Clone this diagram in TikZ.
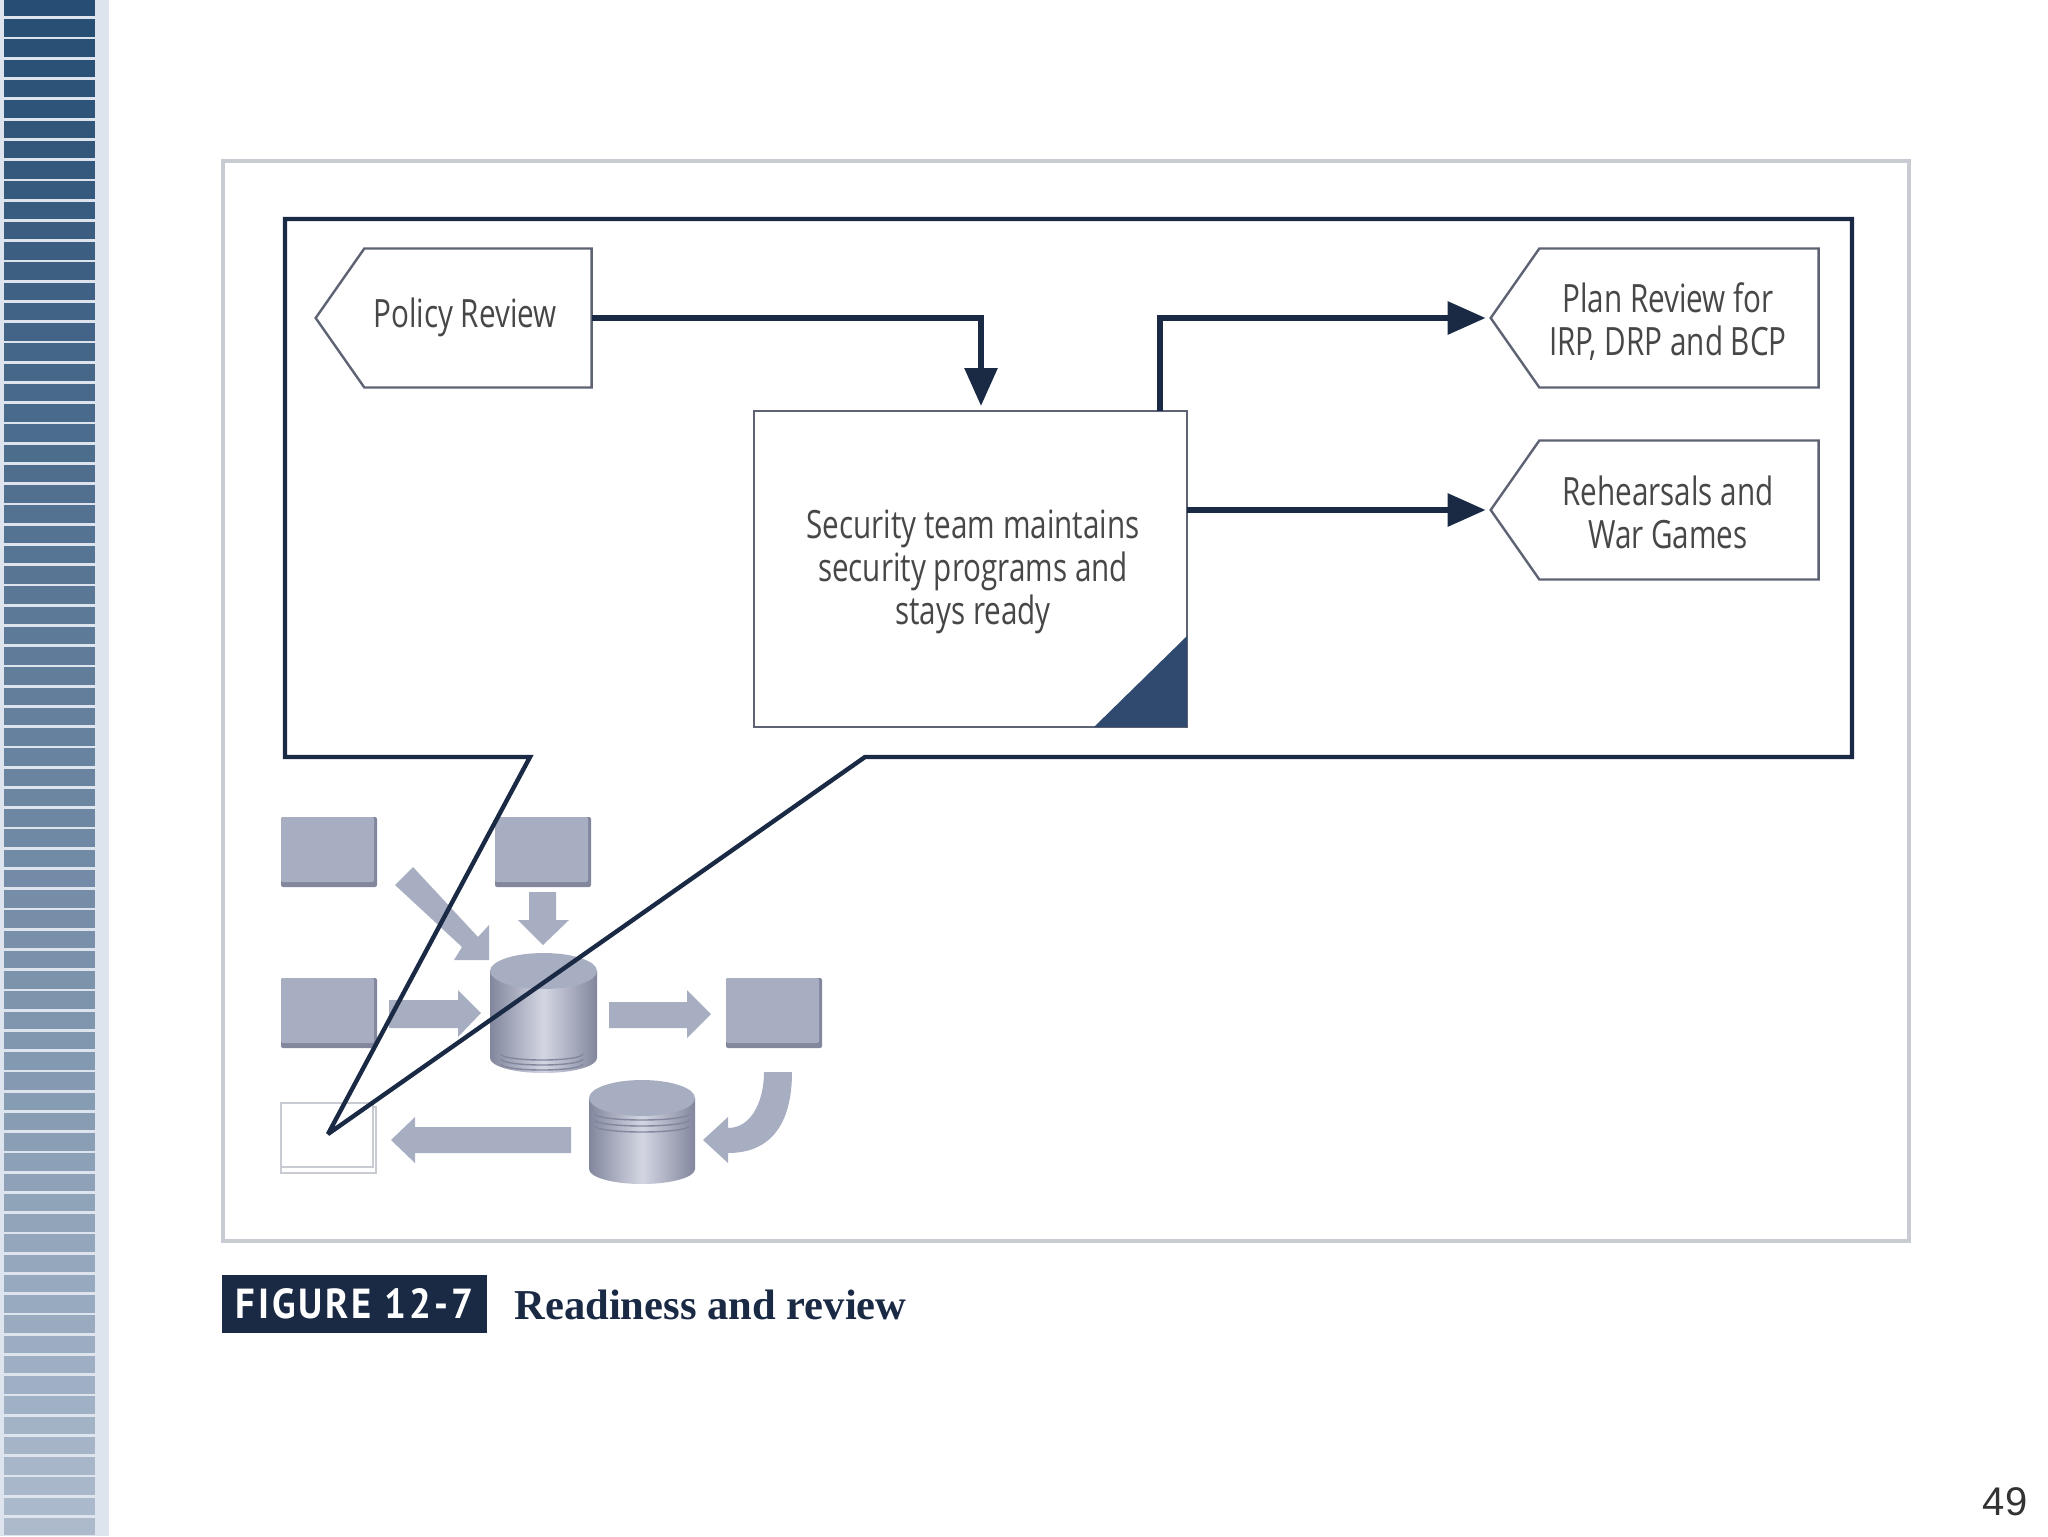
\documentclass[tikz,border=0pt]{standalone}
\usepackage{fontspec}
\usepackage{tikz}
\usetikzlibrary{shapes.symbols, arrows.meta, positioning}
\setmainfont{Liberation Serif}
\newfontfamily\labelfont[FakeStretch=0.76]{Open Sans}
\newfontfamily\badgefont[FakeStretch=0.92,LetterSpace=7]{PT Sans}
\newfontfamily\pagefont{Liberation Sans}
\definecolor{navy}{HTML}{1A2A45}
\definecolor{teamblue}{HTML}{2F4A6E}
\definecolor{framegray}{HTML}{C9CBD3}
\definecolor{boxgray}{HTML}{5E6374}
\definecolor{flowgray}{HTML}{A8AEC1}
\definecolor{flowdark}{HTML}{82879E}
\definecolor{flowlight}{HTML}{D3D6E2}
\definecolor{stripetop}{HTML}{264D73}
\definecolor{stripeend}{HTML}{ACBACC}
\definecolor{bandpale}{HTML}{DEE4EE}
\begin{document}
\begin{tikzpicture}[x=0.5pt, y=-0.5pt,
    label/.style={font=\labelfont\fontsize{19.5}{21.5}\selectfont, text=black!72, align=center},
    review/.style={signal, signal to=west, signal pointer angle=110, draw=boxgray, line width=1.2pt, fill=white, minimum height=69.5pt, inner sep=0pt, outer sep=0pt},
    wire/.style={draw=navy, line width=3pt, shorten >=2.5pt, -{Triangle[length=19pt, width=16pt]}},
    block/.style={fill=flowgray, draw=none, rounded corners=1pt},
    flow/.style={fill=flowgray, draw=none}]
    \useasboundingbox (0,0) rectangle (2048,1536);
    % Sidebar stripes
    \fill[bandpale] (0,0) rectangle (109,1536);
    \foreach \i in {0,...,75} {
        \pgfmathsetmacro{\mixval}{100-\i*100/75}
        \fill[stripetop!\mixval!stripeend] (4,{max(\i*20.25-1,0)}) rectangle (95,{min(\i*20.25+16.5,1536)});
    }
    % Outer frame
    \draw[framegray, line width=2pt] (223,161) rectangle (1909,1241);

    % Small flow chart
    \foreach \nm/\xa/\ya in {blockA/281/817, blockB/495/817, blockC/281/978, blockD/726/978} {
        \fill[flowdark, rounded corners=1pt] (\xa,\ya) rectangle ++(96,70);
        \fill[block] (\xa,\ya) rectangle ++(93,65);
    }
    \draw[framegray, line width=1pt, fill=white] (281,1107) rectangle (376,1173);
    \draw[framegray, line width=1pt, fill=white] (281,1103) rectangle (373,1167);
    \fill[flow] (413,867) -- (478,937) -- (489,925) -- (489,960) -- (454,960) -- (462,947) -- (395,885) -- cycle;
    \fill[flow] (529,892) -- (556,892) -- (556,920) -- (569,920) -- (543,945) -- (518,920) -- (529,920) -- cycle;
    \fill[flow] (389,1000) -- (458,1000) -- (458,990) -- (481,1013) -- (458,1037) -- (458,1028) -- (389,1028) -- cycle;
    \fill[flow] (609,1002) -- (687,1002) -- (687,990) -- (711,1014) -- (687,1038) -- (687,1028) -- (609,1028) -- cycle;
    \fill[flow] (391,1140) -- (415,1117) -- (415,1127) -- (571,1127) -- (571,1153) -- (415,1153) -- (415,1163) -- cycle;
    \fill[flow] (764,1072) -- (792,1072) .. controls (792,1125) and (770,1153) .. (728,1153) -- (728,1163) -- (703,1140) -- (728,1117) -- (728,1128) .. controls (752,1128) and (764,1100) .. (764,1072) -- cycle;

    % Disks
    \foreach \xa/\xb/\ya/\yb in {490/597/971/1058, 589/695/1098/1169} {
        \path[left color=flowdark, right color=flowdark, middle color=flowlight]
            (\xa,\ya) -- (\xa,\yb) arc[start angle=180, end angle=0, x radius=(\xb-\xa)/2, y radius=15] -- (\xb,\ya) -- cycle;
        \fill[flowgray] ({(\xa+\xb)/2},\ya) ellipse[x radius=(\xb-\xa)/2, y radius=18];
    }
    \foreach \ya in {1054,1059,1064} {
        \draw[flowdark, line width=0.7pt] (501,\ya) arc[start angle=180, end angle=0, x radius=41, y radius=6];
    }
    \foreach \ya in {1114,1120,1126} {
        \draw[flowdark, line width=0.7pt] (595,\ya) arc[start angle=180, end angle=0, x radius=47, y radius=6];
    }

    % Callout outline
    \draw[navy, line width=2.2pt, miter limit=2] (285,219) -- (1852,219) -- (1852,757) -- (865,757) -- (328,1134) -- (530,757) -- (285,757) -- cycle;

    % Review boxes
    \node[review, minimum width=138pt] at (478,318) (policy) {};
    \node[review, minimum width=164pt] at (1679,318) (plan) {};
    \node[review, minimum width=164pt] at (1679,510) (drill) {};
    \node[draw=boxgray, line width=1.2pt, fill=white, minimum width=216.5pt, minimum height=158pt, inner sep=0pt, outer sep=0pt] at (970.5,569) (team) {};
    \fill[teamblue] (1094,727) -- (1187,727) -- (1187,636) -- cycle;

    % Box texts
    \node[label] at (465,317) (policytext) {Policy Review};
    \node[label] at (1668,322) (plantext) {Plan Review for\\IRP, DRP and BCP};
    \node[label] at (1668,512) (drilltext) {Rehearsals and\\War Games};
    \node[label] at (973,572) (teamtext) {Security team maintains\\security programs and\\stays ready};

    % Wiring
    \coordinate (teamin) at (981,411);
    \coordinate (teamtop) at (1160,411);
    \draw[wire] (policy.east) -| (teamin);
    \draw[wire] (teamtop) |- (plan.west);
    \draw[wire] (team.east |- drill.west) -- (drill.west);

    % Caption
    \node[fill=navy, text=white, font=\badgefont\bfseries\fontsize{21}{24}\selectfont, minimum width=132.5pt, minimum height=29pt, inner sep=0pt] at (354.5,1304) (badge) {FIGURE 12-7};
    \node[font=\bfseries\fontsize{21.3}{24}\selectfont, text=navy, right=10pt of badge, yshift=-0.5pt] (caption) {Readiness and review};
    \node[font=\pagefont\fontsize{20}{24}\selectfont, text=black!80] at (2005,1502) (pagenum) {49};
\end{tikzpicture}
\end{document}
